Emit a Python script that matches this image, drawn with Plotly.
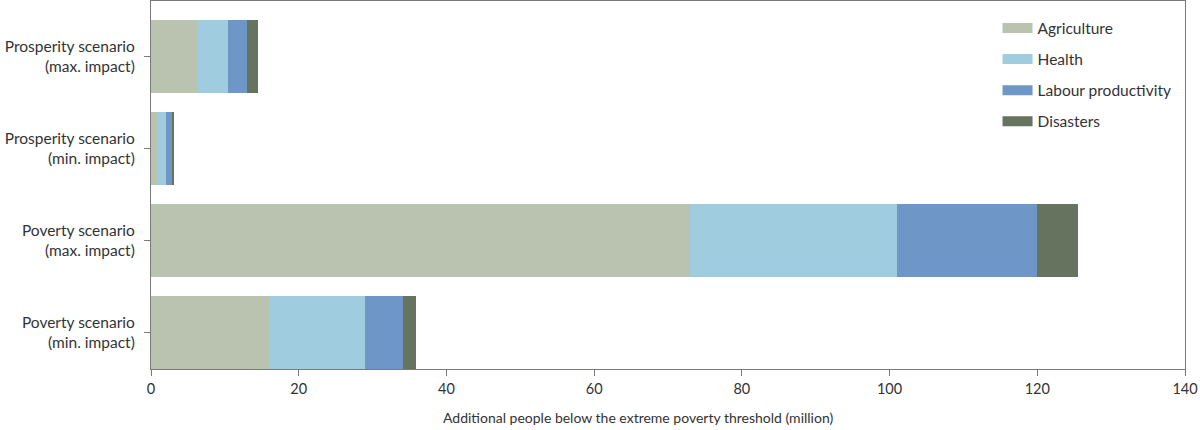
import plotly.graph_objects as go

# Scenarios, listed bottom to top
scenarios = [
    "Poverty scenario<br>(min. impact)",
    "Poverty scenario<br>(max. impact)",
    "Prosperity scenario<br>(min. impact)",
    "Prosperity scenario<br>(max. impact)",
]

# Additional people below the extreme poverty threshold (million)
agriculture = [16.0, 73.0, 0.8, 6.2]
health = [13.0, 28.0, 1.2, 4.2]
labour = [5.1, 19.0, 0.9, 2.6]
disasters = [1.8, 5.5, 0.2, 1.5]

series = [
    ("Agriculture", agriculture, "#b9c3af"),
    ("Health", health, "#a0cce0"),
    ("Labour productivity", labour, "#6e97c8"),
    ("Disasters", disasters, "#65735f"),
]

fig = go.Figure()
for name, vals, color in series:
    fig.add_trace(go.Bar(
        x=vals, y=scenarios, orientation="h", name=name,
        marker=dict(color=color, line=dict(width=0)),
        width=0.79, showlegend=False,
    ))
    # wide legend swatch
    fig.add_trace(go.Scatter(
        x=[None], y=[None], mode="lines", name=name,
        line=dict(color=color, width=12), legendgroup=name,
    ))

axis_col = "#7a7a7a"
fig.update_layout(
    barmode="stack",
    width=1200, height=430,
    margin=dict(l=151, r=15, t=1, b=61),
    plot_bgcolor="white", paper_bgcolor="white",
    font=dict(family="Lato, Open Sans, sans-serif", size=15.5, color="#333333"),
    legend=dict(
        x=0.8187, y=0.972, xanchor="left", yanchor="top",
        font=dict(size=15.5, color="#333333"),
        tracegroupgap=8, bgcolor="rgba(0,0,0,0)",
    ),
    xaxis=dict(
        range=[0, 140], tickvals=[0, 20, 40, 60, 80, 100, 120, 140],
        tickfont=dict(size=14.5),
        showline=True, linecolor=axis_col, linewidth=1.2, mirror=True,
        ticks="outside", ticklen=6, tickcolor=axis_col,
        showgrid=False, zeroline=False,
    ),
    yaxis=dict(
        range=[-0.395, 3.6],
        showline=True, linecolor=axis_col, linewidth=1.2, mirror=True,
        ticks="outside", ticklen=6, tickcolor=axis_col, ticklabelstandoff=6,
        showgrid=False, zeroline=False,
    ),
    annotations=[dict(
        text="Additional people below the extreme poverty threshold (million)",
        xref="paper", yref="paper", x=0.471, y=-0.133,
        xanchor="center", yanchor="middle", showarrow=False,
        font=dict(size=14, color="#333333"),
    )],
)

fig.write_html(
    "out.html",
    config={"displayModeBar": False},
    post_script="document.body.style.margin='0';",
)
